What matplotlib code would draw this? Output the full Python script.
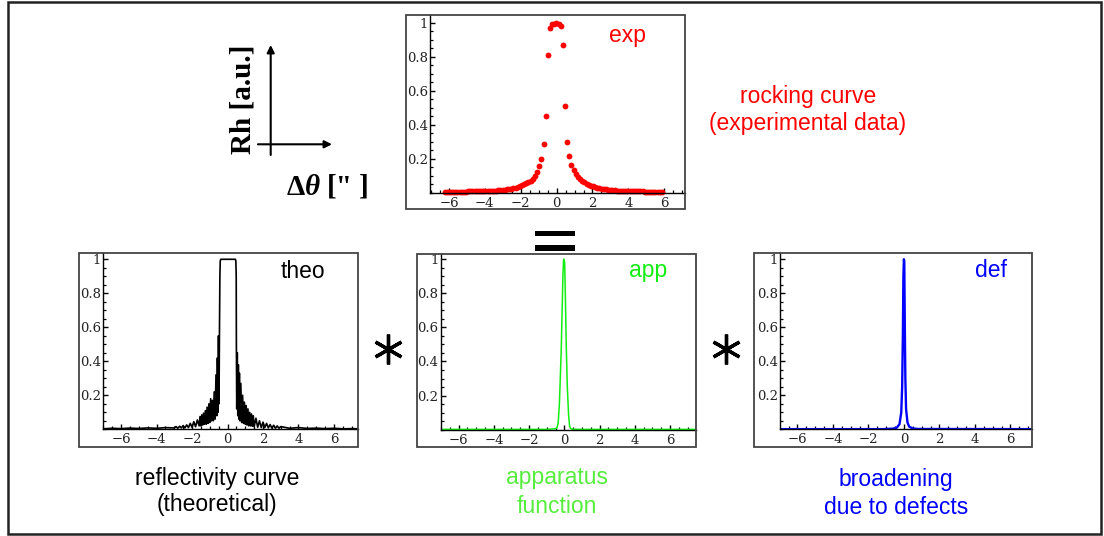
import matplotlib
matplotlib.use('Agg')
import matplotlib.pyplot as plt
from matplotlib.patches import Rectangle, FancyArrowPatch
from matplotlib.lines import Line2D
from matplotlib.markers import MarkerStyle
from matplotlib.ticker import MultipleLocator

W, H = 1104, 536

# measured rocking curve (dots)
exp_x = [-6.25, -6.13, -6.01, -5.89, -5.77, -5.65, -5.53, -5.41, -5.29, -5.17,
         -5.05, -4.93, -4.81, -4.69, -4.57, -4.45, -4.33, -4.21, -4.09,
         -3.97, -3.85, -3.73, -3.61, -3.49, -3.37, -3.25, -3.13, -3.01,
         -2.89, -2.77, -2.65, -2.53, -2.41, -2.29, -2.17, -2.05,
         -1.93, -1.81, -1.69, -1.57, -1.45, -1.33, -1.21, -1.09, -0.97,
         -0.85, -0.73, -0.61, -0.49, -0.37,
         -0.25, -0.13, -0.01,
         0.11, 0.23, 0.35, 0.47, 0.59, 0.71, 0.83,
         0.95, 1.07, 1.19, 1.31, 1.43, 1.55, 1.67, 1.79, 1.91, 2.03,
         2.15, 2.27, 2.39, 2.51, 2.63, 2.75, 2.87, 2.99, 3.11, 3.23,
         3.35, 3.47, 3.59, 3.71, 3.83, 3.95, 4.07, 4.19, 4.31, 4.43,
         4.55, 4.67, 4.79, 4.91, 5.03, 5.15, 5.27, 5.39, 5.51, 5.63, 5.75, 5.87]
exp_y = [0.007, 0.007, 0.007, 0.007, 0.007, 0.008, 0.008, 0.008, 0.008, 0.008,
         0.008, 0.009, 0.009, 0.009, 0.009, 0.009, 0.010, 0.010, 0.010,
         0.011, 0.011, 0.012, 0.012, 0.013, 0.014, 0.015, 0.016, 0.017,
         0.019, 0.021, 0.023, 0.026, 0.029, 0.032, 0.036, 0.040,
         0.045, 0.051, 0.057, 0.064, 0.073, 0.085, 0.100, 0.125, 0.157,
         0.20, 0.29, 0.45, 0.81, 0.97,
         0.99, 0.995, 1.0,
         0.99, 0.98, 0.87, 0.51, 0.30, 0.22, 0.167,
         0.135, 0.11, 0.095, 0.082, 0.071, 0.062, 0.055, 0.049, 0.044, 0.039,
         0.035, 0.031, 0.028, 0.025, 0.023, 0.021, 0.019, 0.017, 0.016, 0.015,
         0.014, 0.013, 0.012, 0.012, 0.011, 0.011, 0.010, 0.010, 0.010, 0.009,
         0.009, 0.009, 0.009, 0.008, 0.008, 0.008, 0.008, 0.008, 0.008, 0.007, 0.007, 0.007]

# theoretical reflectivity curve
theo_x = [-7.0, -6.5, -6.0, -5.5, -5.0, -4.5, -4.0, -3.5, -3.0,
          -2.9, -2.8, -2.7, -2.6, -2.5, -2.4, -2.3, -2.2, -2.1, -2.0, -1.9, -1.8, -1.7, -1.6,
          -1.55, -1.5, -1.45, -1.4, -1.35, -1.3, -1.25, -1.2, -1.15, -1.1, -1.05, -1.0,
          -0.95, -0.9, -0.85, -0.8, -0.75, -0.7, -0.65, -0.6, -0.57, -0.54, -0.51, -0.48, -0.45,
          -0.43, -0.41, -0.38, 0.44, 0.47, 0.49,
          0.5, 0.52, 0.55, 0.58, 0.61, 0.64, 0.67, 0.7, 0.75, 0.8, 0.85, 0.9, 0.95, 1.0,
          1.05, 1.1, 1.15, 1.2, 1.25, 1.3, 1.35, 1.4, 1.45, 1.5,
          1.6, 1.7, 1.8, 1.9, 2.0, 2.1, 2.2, 2.3, 2.4, 2.5, 2.6, 2.7, 2.8, 2.9, 3.0,
          3.5, 4.0, 4.5, 5.0, 5.5, 6.0, 6.5, 7.0, 7.4]
theo_y = [0.003, 0.006, 0.004, 0.007, 0.005, 0.008, 0.006, 0.010, 0.008,
          0.016, 0.006, 0.018, 0.008, 0.022, 0.008, 0.026, 0.010, 0.035, 0.012, 0.045, 0.015, 0.055, 0.020,
          0.075, 0.020, 0.085, 0.025, 0.095, 0.030, 0.110, 0.030, 0.130, 0.035, 0.150, 0.040,
          0.180, 0.050, 0.170, 0.050, 0.220, 0.060, 0.320, 0.080, 0.420, 0.100, 0.550, 0.150, 0.630,
          0.90, 0.99, 1.0, 1.0, 0.99, 0.90,
          0.49, 0.12, 0.45, 0.08, 0.38, 0.06, 0.33, 0.05, 0.27, 0.04, 0.20, 0.035, 0.16, 0.03,
          0.14, 0.025, 0.12, 0.02, 0.10, 0.02, 0.09, 0.018, 0.08, 0.015,
          0.065, 0.012, 0.05, 0.01, 0.042, 0.01, 0.035, 0.008, 0.028, 0.007, 0.024, 0.006, 0.02, 0.006, 0.016,
          0.006, 0.010, 0.005, 0.007, 0.004, 0.006, 0.003, 0.004, 0.003]

# apparatus function
app_x = [-7.0, -1.0, -0.5, -0.42, -0.35, -0.28, -0.22, -0.17, -0.12, -0.075, -0.04,
         0.0, 0.02, 0.06, 0.11, 0.17, 0.24, 0.3, 0.36, 0.5, 1.0, 7.5]
app_y = [0.002, 0.002, 0.006, 0.01, 0.04, 0.15, 0.33, 0.49, 0.72, 0.92, 1.0,
         0.99, 0.98, 0.78, 0.49, 0.25, 0.09, 0.02, 0.006, 0.003, 0.002, 0.002]

# broadening due to defects
defect_x = [-7.0, -1.2, -0.6, -0.4, -0.25, -0.15, -0.1, -0.06, -0.03, 0.0,
            0.02, 0.05, 0.08, 0.12, 0.2, 0.3, 0.5, 0.8, 7.3]
defect_y = [0.001, 0.001, 0.004, 0.01, 0.03, 0.1, 0.25, 0.55, 0.9, 1.0,
            0.98, 0.6, 0.3, 0.12, 0.04, 0.015, 0.005, 0.002, 0.001]

x_ticks = [-6, -4, -2, 0, 2, 4, 6]
y_ticks = [0.2, 0.4, 0.6, 0.8, 1.0]
y_tick_labels = ['0.2', '0.4', '0.6', '0.8', '1']

RED = '#ff0000'
GREEN = '#11ee11'
GREEN_TXT = '#55ee3c'
BLUE = '#0000ff'
SANS = 'Liberation Sans'
SERIF = 'Liberation Serif'

fig = plt.figure(figsize=(W / 100, H / 100), dpi=100)


def fx(x):
    return x / W


def fy(y):
    return 1 - y / H


def frame(x0, y0, x1, y1, ec='#444444', lw=1.3):
    fig.add_artist(Rectangle((fx(x0), fy(y1)), (x1 - x0) / W, (y1 - y0) / H,
                             transform=fig.transFigure, fill=False, ec=ec, lw=lw))


def panel(axbox, fbox, xlim, ytop):
    frame(*fbox)
    x0, y0, x1, y1 = axbox
    ax = fig.add_axes([fx(x0), fy(y1), (x1 - x0) / W, (y1 - y0) / H])
    ax.patch.set_alpha(0)
    ax.spines['top'].set_visible(False)
    ax.spines['right'].set_visible(False)
    for s in ['left', 'bottom']:
        ax.spines[s].set_linewidth(1.0)
    ax.set_xlim(xlim)
    ax.set_ylim(0, ytop)
    ax.set_xticks(x_ticks)
    ax.set_yticks(y_ticks)
    ax.set_yticklabels(y_tick_labels)
    ax.xaxis.set_minor_locator(MultipleLocator(0.5))
    ax.yaxis.set_minor_locator(MultipleLocator(0.05))
    ax.tick_params(which='major', direction='in', length=3.5, width=1.0,
                   labelsize=9.5, labelcolor='#222222', labelfontfamily='DejaVu Serif')
    ax.tick_params(which='minor', direction='in', length=2, width=0.9)
    ax.tick_params(axis='y', pad=1.5)
    ax.tick_params(axis='x', pad=3)
    return ax


# top panel: experiment
ax = panel((430, 15, 685, 193), (406, 15, 685, 209), (-7.06, 7.16), 1.045)
ax.plot(exp_x, exp_y, 'o', color=RED, ms=4.2, mec='none', clip_on=False)
fig.text(fx(627.5), fy(41.7), 'exp', color=RED, ha='center', va='baseline', fontsize=16.5, family=SANS)

# bottom panels
ax = panel((103.3, 253, 358.3, 429.3), (79.3, 253, 358.3, 446.7), (-7.0, 7.37), 1.037)
ax.plot(theo_x, theo_y, color='black', lw=1.2)
fig.text(fx(303.3), fy(278), 'theo', color='black', ha='center', va='baseline', fontsize=16.5, family=SANS)

ax = panel((440.7, 254, 695.7, 429.7), (416.7, 254, 695.7, 446.7), (-7.02, 7.46), 1.03)
ax.plot(app_x, app_y, color=GREEN, lw=1.1)
fig.text(fx(648.5), fy(277.3), 'app', color=GREEN, ha='center', va='baseline', fontsize=16.5, family=SANS)

ax = panel((780, 253.3, 1032.3, 429.3), (754, 253.3, 1032.3, 446.7), (-6.98, 7.23), 1.035)
ax.plot(defect_x, defect_y, color=BLUE, lw=1.7)
fig.text(fx(990.8), fy(277.3), 'def', color=BLUE, ha='center', va='baseline', fontsize=16.5, family=SANS)

# captions
fig.text(fx(808), fy(103), 'rocking curve', color=RED, ha='center', va='baseline', fontsize=16.5, family=SANS)
fig.text(fx(808), fy(130), '(experimental data)', color=RED, ha='center', va='baseline', fontsize=16.5, family=SANS)
fig.text(fx(217), fy(485), 'reflectivity curve', color='black', ha='center', va='baseline', fontsize=16.5, family=SANS)
fig.text(fx(217), fy(511), '(theoretical)', color='black', ha='center', va='baseline', fontsize=16.5, family=SANS)
fig.text(fx(556.7), fy(484.3), 'apparatus', color=GREEN_TXT, ha='center', va='baseline', fontsize=16.5, family=SANS)
fig.text(fx(556.7), fy(512.7), 'function', color=GREEN_TXT, ha='center', va='baseline', fontsize=16.5, family=SANS)
fig.text(fx(895.7), fy(486), 'broadening', color=BLUE, ha='center', va='baseline', fontsize=16.5, family=SANS)
fig.text(fx(895.7), fy(514), 'due to defects', color=BLUE, ha='center', va='baseline', fontsize=16.5, family=SANS)

# axis legend sketch
for p0, p1 in [((270.7, 155), (270.7, 45)), ((258, 144.3), (332, 144.3))]:
    fig.add_artist(FancyArrowPatch((fx(p0[0]), fy(p0[1])), (fx(p1[0]), fy(p1[1])),
                                   transform=fig.transFigure, arrowstyle='-|>',
                                   mutation_scale=11, lw=1.5, color='black',
                                   shrinkA=0, shrinkB=0))
fig.text(fx(243.5), fy(99), 'Rh [a.u.]', rotation=90, ha='center', va='center',
         fontsize=21, family=SERIF, weight='bold')
fig.text(fx(287), fy(195), 'Δ', ha='left', va='baseline', fontsize=21, family=SERIF, weight='bold')
fig.text(fx(304.5), fy(195), 'θ', ha='left', va='baseline', fontsize=21, family=SERIF,
         weight='bold', style='italic')
fig.text(fx(327), fy(195), '["', ha='left', va='baseline', fontsize=21, family=SERIF, weight='bold')
fig.text(fx(369), fy(195), ']', ha='right', va='baseline', fontsize=21, family=SERIF, weight='bold')

# equals sign and convolution stars
for y0, y1 in [(230.7, 236.3), (245.3, 251.3)]:
    fig.add_artist(Rectangle((fx(535), fy(y1)), 40 / W, (y1 - y0) / H,
                             transform=fig.transFigure, color='black', lw=0))
for sx in [387.7, 725.7]:
    fig.add_artist(Line2D([fx(sx)], [fy(349)], transform=fig.transFigure,
                          marker=MarkerStyle((6, 2, 0), capstyle='round'),
                          ms=21.5, mew=2.4, color='black'))

# outer border
frame(8, 2, 1101, 534, ec='#222222', lw=1.8)

fig.savefig('out.png', dpi=100)
